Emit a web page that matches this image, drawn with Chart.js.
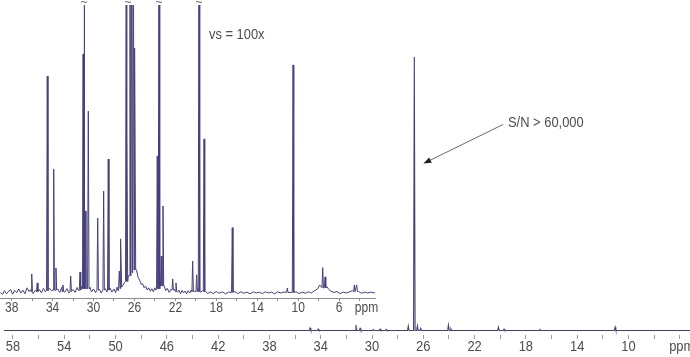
<!DOCTYPE html>
<html><head><meta charset="utf-8">
<script src="https://cdn.jsdelivr.net/npm/chart.js@4.4.1/dist/chart.umd.min.js"></script>
<style>
html,body{margin:0;padding:0;background:#fff;}
#wrap{position:relative;width:690px;height:357px;overflow:hidden;background:#fff;}
canvas{position:absolute;left:0;top:0;}
</style></head><body>
<div id="wrap">
<canvas id="main" width="690" height="357"></canvas>
<canvas id="inset" width="380" height="320"></canvas>
</div>
<script>
// ---------- DATA ----------
const mainTicks = [58,56,54,52,50,48,46,44,42,40,38,36,34,32,30,28,26,24,22,20,18,16,14,12,10,8,6];
const insetTicks = [38,36,34,32,30,28,26,24,22,20,18,16,14,12,10,8,6,4];

// main spectrum (full scale): peak positions (ppm) and heights (% of tallest)
const mainPeakPpm    = [34.83,34.20,31.25,30.93,29.90,29.37,28.90,27.17,26.70,26.46,26.20,24.04,23.85,20.14,19.70,16.90,11.04];
const mainPeakHeight = [0.9,  0.5,  2.0,  0.8,  0.3,  0.5,  0.4,  1.65, 100,  1.75, 0.8,  2.0,  0.6,  1.2,  0.5,  0.3,  1.2];
const mainBasePpm    = [58.7, 5.2];
const mainBaseHeight = [0, 0];

// inset spectrum (vs = 100x): peak positions, heights, local base level
const insetPeakPpm    = [36.04,35.50,34.52,33.89,33.67,32.99,32.23,31.32,31.00,30.93,30.81,30.51,29.59,29.01,28.56,27.48,27.32,26.80,26.73,26.44,26.27,26.11,25.95,23.77,23.60,23.38,23.21,22.26,21.94,20.31,19.92,19.69,19.20,16.44,11.06,10.50,7.60,7.37,4.51,4.28];
const insetPeakHeight = [6.6, 3.5, 75.3, 43,  8.7, 2.8, 5.9, 7.3, 83,  150, 28.5, 63.2, 26,  35.4, 46.5, 7.6, 18.8, 150, 56,  150, 150, 150, 85,  47.6, 150, 12.8, 30.2, 4.9, 3.5, 11.1, 6.3, 150, 53.5, 22.7, 1.7, 79.2, 8.8, 5.6, 2.8, 2.8];
const insetPeakBase   = [0.5, 0.5, 0.8, 1.0, 1.0, 0.5, 0.5, 1.0, 1.5, 1.5, 1.5, 1.5, 1.0, 1.0, 1.0, 1.5, 2.0, 4.0, 4.0, 6.0, 7.0, 8.0, 8.0, 1.5, 1.5, 2.5, 2.5, 1.0, 0.5, 0.5, 0.5, 0.5, 0.5, 0.2, 0.2, 0.2, 1.8, 1.8, 0.5, 0.5];
// inset baseline noise
const insetNoisePpm    = [39.1,38.9,38.7,38.5,38.3,38.1,37.9,37.7,37.5,37.3,37.1,36.9,36.7,36.5,36.3,36.15,35.9,35.7,35.3,35.1,34.9,34.7,34.3,34.1,33.5,33.3,33.1,32.8,32.6,32.4,32.0,31.8,31.6,31.45,31.2,30.7,30.35,30.2,30.0,29.8,29.4,29.25,28.85,28.7,28.4,28.2,28.0,27.85,27.7,27.6,27.15,27.0,26.6,25.8,25.65,25.5,25.35,25.2,25.05,24.9,24.75,24.6,24.45,24.3,24.15,24.0,23.9,23.5,23.1,22.95,22.8,22.6,22.45,22.1,21.8,21.65,21.5,21.35,21.2,21.05,20.9,20.75,20.6,20.45,20.15,19.8,19.5,19.35,19.05,18.85,18.6,18.3,18.0,17.7,17.4,17.1,16.8,16.2,15.9,15.6,15.3,15.0,14.7,14.4,14.1,13.8,13.5,13.2,12.9,12.6,12.3,12.0,11.7,11.4,10.8,10.2,9.9,9.6,9.3,9.0,8.7,8.4,8.1,7.9,7.2,7.0,6.8,6.5,6.2,5.9,5.6,5.3,5.0,4.7,4.1,3.8,3.5,3.2,2.9,2.5];
const insetNoiseHeight = [0.2,-0.5,0.8,-0.3,0.6,1.2,-0.4,0.9,0.1,1.4,0.0,1.0,-0.3,1.8,0.5,1.2,-0.2,0.9,1.2,0.1,1.6,0.4,1.6,0.8,1.4,0.2,2.0,0.3,1.5,0.0,1.2,0.2,1.9,0.7,2.2,1.5,2.0,0.4,1.4,0.1,1.2,0.0,1.5,0.3,1.8,0.3,1.4,0.1,2.0,0.8,2.5,3.5,6.0,8.0,5.5,4.5,3.0,3.2,1.8,2.4,1.0,1.8,0.6,1.5,0.4,1.8,1.0,4.0,2.5,0.8,1.6,0.2,1.2,1.3,0.3,1.0,-0.2,0.9,0.0,0.7,-0.3,0.8,0.0,1.0,0.6,1.5,0.3,0.8,0.6,-0.2,0.4,-0.2,0.5,-0.1,0.4,-0.3,0.3,0.5,-0.2,0.4,-0.1,0.3,-0.3,0.4,0.0,0.3,-0.2,0.4,0.0,0.3,-0.3,0.4,0.0,0.3,0.2,0.4,-0.2,0.3,-0.1,0.4,0.0,0.8,1.4,2.8,2.2,1.2,0.6,0.2,0.5,-0.2,0.3,0.0,0.4,0.8,0.5,-0.1,0.3,0.0,0.3,0.0];
// positions of the truncation marks on the inset
const insetBreakPpm = [30.93, 26.63, 23.60, 19.69];

// ---------- BUILD ----------
const FONT = "'Liberation Sans',Arial,sans-serif";
const NARROW = 0.86;
const LINE = '#45407a';
const TXT = '#4d4d4d';

function trace(pp, ph, pb, bp, bh, foot) {
  const pts = [];
  bp.forEach((p, i) => pts.push({x: p, y: bh[i]}));
  pp.forEach((p, i) => {
    const b = pb ? pb[i] : 0;
    pts.push({x: p + foot, y: b});
    pts.push({x: p, y: ph[i]});
    pts.push({x: p - foot, y: b});
  });
  pts.sort((a, b) => b.x - a.x);
  return pts;
}

function narrowText(ctx, text, x, y, size, align) {
  ctx.save();
  ctx.translate(x, y);
  ctx.scale(NARROW, 1);
  ctx.font = size + 'px ' + FONT;
  ctx.textAlign = align || 'center';
  ctx.textBaseline = 'middle';
  ctx.fillStyle = TXT;
  ctx.fillText(text, 0, 0);
  ctx.restore();
}

const mainLabel = v => ((58 - v) % 4 === 0 && v !== 6) ? String(v) : '';
const insetLabel = v => ((38 - v) % 4 === 0) ? String(v) : '';

const annot = {
  id: 'annot',
  afterDraw(chart) {
    const ctx = chart.ctx, xs = chart.scales.x, ys = chart.scales.y;
    mainTicks.forEach(v => { const t = mainLabel(v); if (t) narrowText(ctx, t, xs.getPixelForValue(v), xs.top + 11.5, 15); });
    narrowText(ctx, 'ppm', xs.getPixelForValue(6) + 2, xs.top + 11.5, 15);
    narrowText(ctx, 'vs = 100x', 209, 35, 15, 'left');
    narrowText(ctx, 'S/N > 60,000', 508, 123, 15, 'left');
    // arrow toward the main peak
    ctx.save();
    const tx = xs.getPixelForValue(26.70) + 9, ty = ys.getPixelForValue(61);
    const sx = 503, sy = 124.5;
    const ang = Math.atan2(ty - sy, tx - sx);
    ctx.strokeStyle = '#444';
    ctx.lineWidth = 0.8;
    ctx.beginPath(); ctx.moveTo(sx, sy); ctx.lineTo(tx - 6 * Math.cos(ang), ty - 6 * Math.sin(ang)); ctx.stroke();
    ctx.fillStyle = '#222';
    ctx.beginPath();
    ctx.moveTo(tx, ty);
    ctx.lineTo(tx - 8 * Math.cos(ang) + 3 * Math.sin(ang), ty - 8 * Math.sin(ang) - 3 * Math.cos(ang));
    ctx.lineTo(tx - 8 * Math.cos(ang) - 3 * Math.sin(ang), ty - 8 * Math.sin(ang) + 3 * Math.cos(ang));
    ctx.closePath(); ctx.fill();
    ctx.restore();
  }
};

const insetAnnot = {
  id: 'insetAnnot',
  afterDraw(chart) {
    const ctx = chart.ctx, xs = chart.scales.x;
    insetTicks.forEach(v => { const t = insetLabel(v); if (t) narrowText(ctx, t, xs.getPixelForValue(v), xs.top + 10, 14); });
    narrowText(ctx, 'ppm', xs.getPixelForValue(4) + 7, xs.top + 10, 14);
    ctx.save();
    ctx.fillStyle = '#666';
    ctx.font = '12px ' + FONT;
    ctx.textAlign = 'center';
    ctx.textBaseline = 'middle';
    insetBreakPpm.forEach(p => ctx.fillText('~', xs.getPixelForValue(p), 3));
    ctx.restore();
  }
};

new Chart(document.getElementById('main'), {
  type: 'scatter',
  data: { datasets: [{
    data: trace(mainPeakPpm, mainPeakHeight, null, mainBasePpm, mainBaseHeight, 0.06),
    showLine: true, borderColor: LINE, borderWidth: 1.1, pointRadius: 0, tension: 0
  }]},
  options: {
    responsive: false, animation: false,
    layout: { padding: { left: 4, right: 0, top: 0, bottom: 0 } },
    plugins: { legend: { display: false }, tooltip: { enabled: false } },
    scales: {
      x: {
        type: 'linear', reverse: true, min: 5.2, max: 58.7,
        afterBuildTicks: s => { s.ticks = mainTicks.map(v => ({value: v})); },
        afterFit: s => { s.height = 22; },
        grid: { display: true, drawOnChartArea: false, drawTicks: true, tickLength: 4, color: '#9a9a9a' },
        border: { display: false },
        ticks: { display: false, autoSkip: false, maxRotation: 0 }
      },
      y: { display: false, min: -1.65, max: 120.8 }
    }
  },
  plugins: [annot]
});

new Chart(document.getElementById('inset'), {
  type: 'scatter',
  data: { datasets: [{
    data: trace(insetPeakPpm, insetPeakHeight, insetPeakBase, insetNoisePpm, insetNoiseHeight, 0.07),
    showLine: true, borderColor: LINE, borderWidth: 1, pointRadius: 0, tension: 0
  }]},
  options: {
    responsive: false, animation: false,
    layout: { padding: { left: 0, right: 5, top: 5, bottom: 0 } },
    plugins: { legend: { display: false }, tooltip: { enabled: false } },
    scales: {
      x: {
        type: 'linear', reverse: true, min: 2.49, max: 39.14,
        afterBuildTicks: s => { s.ticks = insetTicks.map(v => ({value: v})); },
        afterFit: s => { s.height = 22; },
        grid: { display: true, drawOnChartArea: false, drawTicks: true, tickLength: 3, color: '#8a8a8a' },
        border: { display: true, color: '#8a8a8a', width: 1 },
        ticks: { display: false, autoSkip: false, maxRotation: 0 }
      },
      y: { display: false, min: -1.74, max: 100 }
    }
  },
  plugins: [insetAnnot]
});
</script>
</body></html>
